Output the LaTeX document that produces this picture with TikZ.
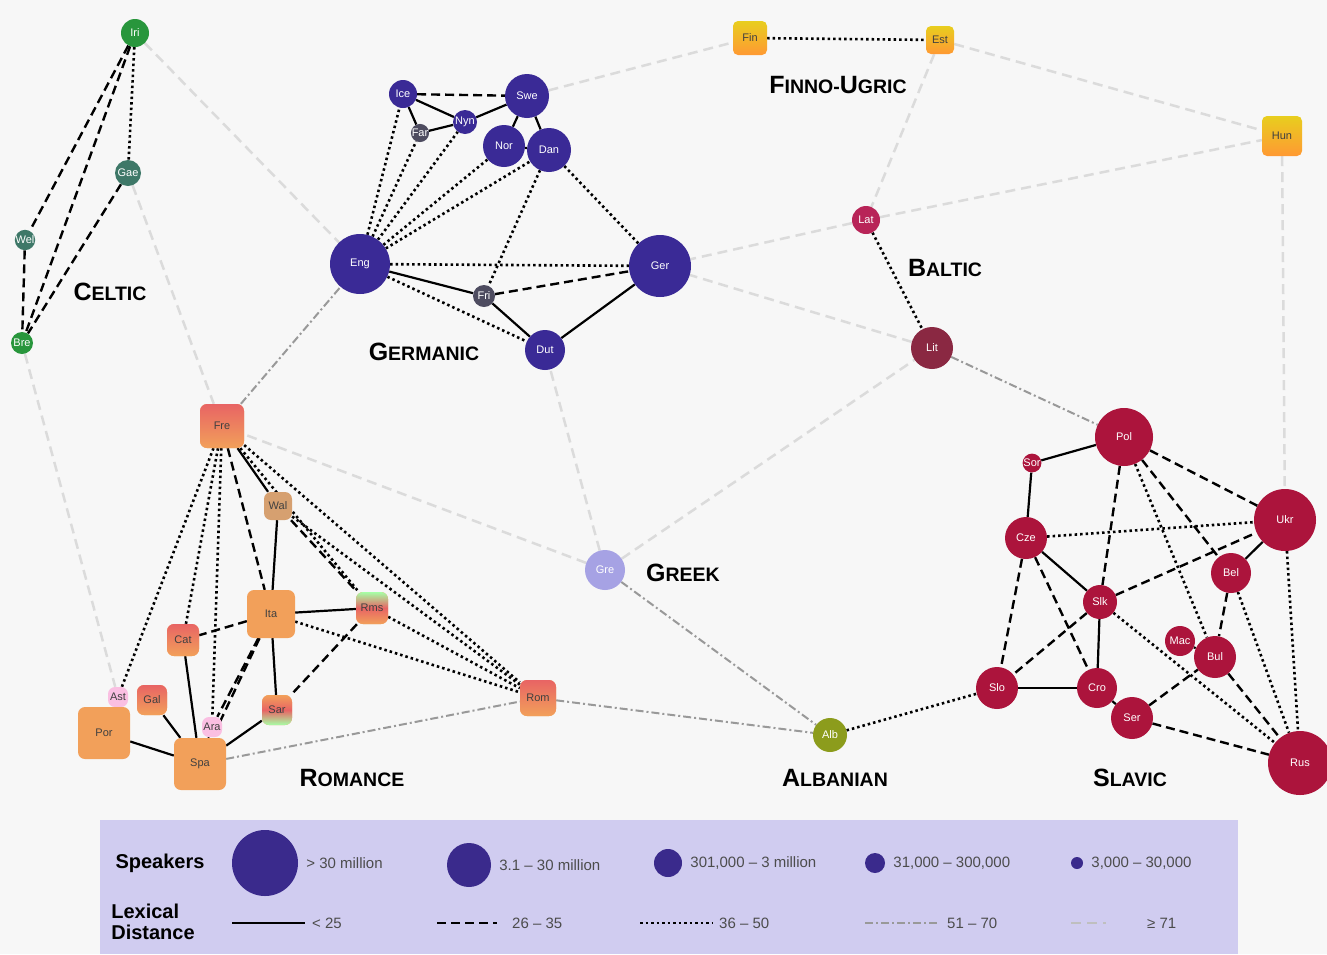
\documentclass[tikz,border=0pt]{standalone}
\usepackage{fontspec}
\setmainfont{Liberation Sans}
\usetikzlibrary{positioning}
\pgfdeclarelayer{edges}
\pgfsetlayers{edges,main}
\definecolor{bgc}{RGB}{247,247,247}
\definecolor{germc}{RGB}{58,42,150}
\definecolor{germs}{RGB}{78,76,96}
\definecolor{slavc}{RGB}{172,20,60}
\definecolor{romc}{RGB}{242,160,90}
\definecolor{romr}{RGB}{232,100,100}
\definecolor{romt}{RGB}{214,160,112}
\definecolor{celtc}{RGB}{40,150,60}
\definecolor{celtd}{RGB}{62,120,104}
\definecolor{finc}{RGB}{232,206,30}
\definecolor{greekc}{RGB}{166,162,228}
\definecolor{albc}{RGB}{140,156,28}
\definecolor{latc}{RGB}{184,36,88}
\definecolor{litc}{RGB}{138,40,66}
\definecolor{legc}{RGB}{208,204,240}
\definecolor{legdot}{RGB}{58,42,140}
\newcommand\grp[2]{{\bfseries\fontsize{25}{25}\selectfont #1\fontsize{19.5}{20}\selectfont #2}}

\begin{document}
\begin{tikzpicture}[x=1pt,y=-1pt,
  lang/.style={circle,inner sep=0pt,text=white,font=\fontsize{11}{11}\selectfont},
  germ/.style={lang,fill=germc},
  slav/.style={lang,fill=slavc},
  celt/.style={lang,fill=celtc},
  romn/.style={lang,rectangle,rounded corners=7pt,fill=romc,text=black!75},
  finn/.style={lang,rectangle,rounded corners=5pt,top color=finc,bottom color=orange!80,text=black!75},
  grplabel/.style={inner sep=1pt},
  legtitle/.style={font=\bfseries\fontsize{20}{21}\selectfont,inner sep=1pt},
  legtext/.style={font=\fontsize{15}{15}\selectfont,text=black!70,inner sep=1pt},
  d25/.style={line width=2.2pt},
  d35/.style={line width=2.4pt,dash pattern=on 9pt off 5pt},
  d50/.style={line width=2.6pt,dash pattern=on 2.5pt off 3pt},
  d70/.style={line width=2pt,black!40,dash pattern=on 8pt off 3pt on 2pt off 3pt},
  d71/.style={line width=2.5pt,black!14,dash pattern=on 10pt off 6pt}
]
\useasboundingbox (0,0) rectangle (1327,954);

% Celtic
\node[celt,minimum size=28] (iri) at (135,33) {Iri};
\node[celt,fill=celtd,minimum size=26] (gae) at (128,173) {Gae};
\node[celt,fill=celtd,minimum size=20] (wel) at (25,240) {Wel};
\node[celt,minimum size=22] (bre) at (22,343) {Bre};

% Germanic
\node[germ,minimum size=60] (eng) at (360,264) {Eng};
\node[germ,minimum size=62] (ger) at (660,266) {Ger};
\node[germ,minimum size=44] (swe) at (527,96) {Swe};
\node[germ,minimum size=42] (nor) at (504,146) {Nor};
\node[germ,minimum size=44] (dan) at (549,150) {Dan};
\node[germ,minimum size=40] (dut) at (545,350) {Dut};
\node[germ,minimum size=28] (ice) at (403,94) {Ice};
\node[germ,minimum size=24] (nyn) at (465,122) {Nyn};
\node[germ,fill=germs,minimum size=18] (far) at (420,133) {Far};
\node[germ,fill=germs,minimum size=22] (fri) at (484,296) {Fri};

% Romance
\node[romn,top color=romr,bottom color=romc,minimum size=44] (fre) at (222,426) {Fre};
\node[romn,fill=romt,minimum size=28] (wal) at (278,506) {Wal};
\node[romn,minimum size=48] (ita) at (271,614) {Ita};
\node[romn,top color=green!35,bottom color=romc,middle color=romr,minimum size=32] (rms) at (372,608) {Rms};
\node[romn,top color=romr,bottom color=romc,minimum size=32] (cat) at (183,640) {Cat};
\node[romn,top color=romr,bottom color=romc,minimum size=30] (gal) at (152,700) {Gal};
\node[romn,fill=magenta!25,minimum size=20] (ast) at (118,697) {Ast};
\node[romn,fill=magenta!25,minimum size=20] (ara) at (212,727) {Ara};
\node[romn,minimum size=52] (por) at (104,733) {Por};
\node[romn,minimum size=52] (spa) at (200,764) {Spa};
\node[romn,top color=romc,bottom color=green!35,middle color=romr,minimum size=30] (sar) at (277,710) {Sar};
\node[romn,top color=romr,bottom color=romc,minimum size=36] (rom) at (538,698) {Rom};

% Baltic, Finno-Ugric, Greek, Albanian
\node[lang,fill=latc,minimum size=28] (lat) at (866,220) {Lat};
\node[lang,fill=litc,minimum size=42] (lit) at (932,348) {Lit};
\node[finn,minimum size=34] (fin) at (750,38) {Fin};
\node[finn,minimum size=28] (est) at (940,40) {Est};
\node[finn,minimum size=40] (hun) at (1282,136) {Hun};
\node[lang,fill=greekc,minimum size=40] (gre) at (605,570) {Gre};
\node[lang,fill=albc,minimum size=34] (alb) at (830,735) {Alb};

% Slavic
\node[slav,minimum size=58] (pol) at (1124,437) {Pol};
\node[slav,minimum size=16] (sor) at (1032,463) {Sor};
\node[slav,minimum size=42] (cze) at (1026,538) {Cze};
\node[slav,minimum size=34] (slk) at (1100,602) {Slk};
\node[slav,minimum size=62] (ukr) at (1285,520) {Ukr};
\node[slav,minimum size=40] (bel) at (1231,573) {Bel};
\node[slav,minimum size=30] (mac) at (1180,641) {Mac};
\node[slav,minimum size=42] (bul) at (1215,657) {Bul};
\node[slav,minimum size=42] (slo) at (997,688) {Slo};
\node[slav,minimum size=40] (cro) at (1097,688) {Cro};
\node[slav,minimum size=42] (ser) at (1132,718) {Ser};
\node[slav,minimum size=64] (rus) at (1300,763) {Rus};

% family labels
\node[grplabel] (celtic) at (110,292) {\grp{C}{ELTIC}};
\node[grplabel] (germanic) at (424,352) {\grp{G}{ERMANIC}};
\node[grplabel] (finnougric) at (838,85) {\grp{F}{INNO-}\grp{U}{GRIC}};
\node[grplabel] (baltic) at (945,268) {\grp{B}{ALTIC}};
\node[grplabel] (greek) at (683,573) {\grp{G}{REEK}};
\node[grplabel] (romance) at (352,778) {\grp{R}{OMANCE}};
\node[grplabel] (albanian) at (835,778) {\grp{A}{LBANIAN}};
\node[grplabel] (slavic) at (1130,778) {\grp{S}{LAVIC}};

\begin{pgfonlayer}{edges}
\fill[bgc] (0,0) rectangle (1327,954);
% >= 71
\foreach \a/\b in {iri/eng,gae/fre,bre/ast,swe/fin,est/hun,est/lat,lat/hun,lat/ger,lit/ger,hun/ukr,gre/lit,gre/dut,gre/fre}
  \draw[d71] (\a) -- (\b);
% 51 - 70
\foreach \a/\b in {fre/eng,gre/alb,rom/alb,spa/rom,lit/pol}
  \draw[d70] (\a) -- (\b);
% 36 - 50
\foreach \a/\b in {iri/gae,lat/lit,fin/est,alb/slo,eng/ice,eng/far,eng/nyn,eng/nor,eng/dan,eng/ger,eng/dut,dan/ger,dan/fri,
  fre/ast,fre/cat,fre/ara,fre/rom,fre/rms,wal/rom,ita/rom,rms/rom,cze/ukr,slk/rus,ukr/rus,bel/rus,pol/bul}
  \draw[d50] (\a) -- (\b);
% 26 - 35
\foreach \a/\b in {iri/wel,iri/bre,gae/bre,wel/bre,ice/swe,fri/ger,fre/ita,wal/rms,ita/spa,ita/cat,ita/ara,rms/sar,
  pol/ukr,pol/slk,pol/bel,slk/ukr,cze/slo,cze/cro,slk/slo,bel/bul,ser/bul,ser/rus,bul/rus}
  \draw[d35] (\a) -- (\b);
% <= 25
\foreach \a/\b in {ice/nyn,ice/far,far/nyn,nyn/swe,swe/nor,swe/dan,nor/dan,eng/fri,fri/dut,dut/ger,
  fre/wal,wal/ita,ita/rms,ita/sar,cat/spa,gal/spa,por/spa,sar/spa,ara/spa,
  pol/sor,sor/cze,cze/slk,slk/cro,slo/cro,cro/ser,ukr/bel,mac/bul}
  \draw[d25] (\a) -- (\b);
\end{pgfonlayer}

% legend
\node[fill=legc,minimum width=1138,minimum height=134,inner sep=0pt] (legend) at (669,887) {};
\node[legtitle] (speakers) at (160,863) {Speakers};
\node[circle,fill=legdot,inner sep=0pt,minimum size=66] (k1) at (265,863) {};
\node[legtext,right=7pt of k1] (t1) {> 30 million};
\node[circle,fill=legdot,inner sep=0pt,minimum size=44] (k2) at (469,865) {};
\node[legtext,right=7pt of k2] (t2) {3.1 – 30 million};
\node[circle,fill=legdot,inner sep=0pt,minimum size=28] (k3) at (668,863) {};
\node[legtext,right=7pt of k3] (t3) {301,000 – 3 million};
\node[circle,fill=legdot,inner sep=0pt,minimum size=20] (k4) at (875,863) {};
\node[legtext,right=7pt of k4] (t4) {31,000 – 300,000};
\node[circle,fill=legdot,inner sep=0pt,minimum size=12] (k5) at (1077,863) {};
\node[legtext,right=7pt of k5] (t5) {3,000 – 30,000};
\node[legtitle,align=left] (lexical) at (153,922) {Lexical\\Distance};
\coordinate (a1) at (232,923); \coordinate (b1) at (305,923);
\coordinate (a2) at (437,923); \coordinate (b2) at (497,923);
\coordinate (a3) at (640,923); \coordinate (b3) at (712,923);
\coordinate (a4) at (865,923); \coordinate (b4) at (938,923);
\coordinate (a5) at (1071,923); \coordinate (b5) at (1106,923);
\draw[d25] (a1) -- (b1);
\draw[d35] (a2) -- (b2);
\draw[d50] (a3) -- (b3);
\draw[d70] (a4) -- (b4);
\draw[d71,black!25] (a5) -- (b5);
\node[legtext,right=6pt of b1] (u1) {< 25};
\node[legtext,right=14pt of b2] (u2) {26 – 35};
\node[legtext,right=6pt of b3] (u3) {36 – 50};
\node[legtext,right=8pt of b4] (u4) {51 – 70};
\node[legtext,right=40pt of b5] (u5) {≥ 71};
\end{tikzpicture}
\end{document}
